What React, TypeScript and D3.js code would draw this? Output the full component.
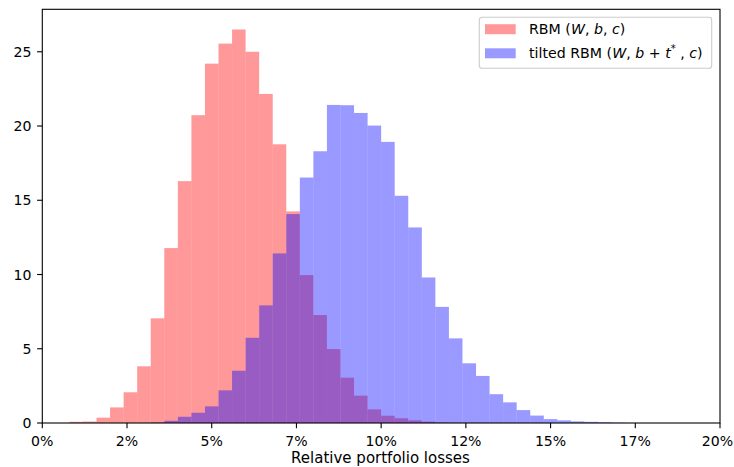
import React, { useEffect, useRef } from "react";
import * as d3 from "d3";

// histogram bins, left edge in percent, bin width 0.4%
const binWidth = 0.4;

const rbmEdges = [0.8, 1.2, 1.6, 2.0, 2.4, 2.8, 3.2, 3.6, 4.0, 4.4, 4.8, 5.2, 5.6, 6.0,
  6.4, 6.8, 7.2, 7.6, 8.0, 8.4, 8.8, 9.2, 9.6, 10.0, 10.4, 10.8, 11.2, 11.6];
const rbmDensity = [0.08, 0.1, 0.36, 1.05, 2.07, 3.82, 7.05, 11.78, 16.29, 20.73, 24.2, 25.55, 26.5, 25.0,
  22.16, 18.77, 14.25, 9.96, 7.27, 4.98, 3.05, 1.84, 0.92, 0.49, 0.32, 0.18, 0.09, 0.03];

const tiltedEdges = [3.2, 3.6, 4.0, 4.4, 4.8, 5.2, 5.6, 6.0, 6.4, 6.8, 7.2, 7.6, 8.0, 8.4, 8.8,
  9.2, 9.6, 10.0, 10.4, 10.8, 11.2, 11.6, 12.0, 12.4, 12.8, 13.2, 13.6, 14.0, 14.4, 14.8,
  15.2, 15.6, 16.0, 16.4, 16.8];
const tiltedDensity = [0.03, 0.15, 0.42, 0.69, 1.12, 2.2, 3.52, 5.74, 7.92, 11.42, 14.07, 16.53, 18.3, 21.42, 21.4,
  20.88, 20.03, 18.93, 15.3, 13.17, 9.8, 7.82, 5.7, 4.02, 3.17, 1.94, 1.39, 0.87, 0.5, 0.26,
  0.18, 0.11, 0.08, 0.05, 0.02];

const xTicks = [0, 2.5, 5, 7.5, 10, 12.5, 15, 17.5, 20];
const xTickLabels = ["0%", "2%", "5%", "7%", "10%", "12%", "15%", "17%", "20%"];
const yTicks = [0, 5, 10, 15, 20, 25];

const W = 734;
const H = 467;
const FONT = "DejaVu Sans, sans-serif";

const App = () => {
  const ref = useRef<SVGSVGElement>(null);

  useEffect(() => {
    const svg = d3.select(ref.current);
    svg.selectAll("*").remove();

    const x = d3.scaleLinear().domain([0, 20]).range([42.3, 720]);
    const y = d3.scaleLinear().domain([0, 27.86]).range([423, 9.3]);

    const drawHist = (edges: number[], vals: number[], color: string) => {
      svg
        .append("g")
        .selectAll("rect")
        .data(edges.map((e, i) => ({ e, v: vals[i] })))
        .join("rect")
        .attr("x", (d) => x(d.e))
        .attr("width", (d) => x(d.e + binWidth) - x(d.e))
        .attr("y", (d) => y(d.v))
        .attr("height", (d) => y(0) - y(d.v))
        .attr("fill", color)
        .attr("fill-opacity", 0.4);
    };

    drawHist(rbmEdges, rbmDensity, "red");
    drawHist(tiltedEdges, tiltedDensity, "blue");

    // x axis ticks
    const xg = svg.append("g");
    xTicks.forEach((t, i) => {
      xg.append("line")
        .attr("x1", x(t)).attr("x2", x(t))
        .attr("y1", 423).attr("y2", 428.2)
        .attr("stroke", "black").attr("stroke-width", 1.1);
      // last label would spill past the right edge, pull it in a little
      const lx = i === xTicks.length - 1 ? x(t) - 2.5 : x(t);
      xg.append("text")
        .attr("x", lx).attr("y", 445.5)
        .attr("text-anchor", "middle")
        .attr("font-family", FONT).attr("font-size", 14.1)
        .text(xTickLabels[i]);
    });

    // y axis ticks
    const yg = svg.append("g");
    yTicks.forEach((t) => {
      yg.append("line")
        .attr("x1", 37.1).attr("x2", 42.3)
        .attr("y1", y(t)).attr("y2", y(t))
        .attr("stroke", "black").attr("stroke-width", 1.1);
      yg.append("text")
        .attr("x", 31.5).attr("y", y(t))
        .attr("dy", "0.36em")
        .attr("text-anchor", "end")
        .attr("font-family", FONT).attr("font-size", 14.1)
        .text(t);
    });

    // frame
    svg.append("rect")
      .attr("x", 42.3).attr("y", 9.3)
      .attr("width", 720 - 42.3).attr("height", 423 - 9.3)
      .attr("fill", "none").attr("stroke", "black").attr("stroke-width", 1.1);

    svg.append("text")
      .attr("x", 380.5).attr("y", 462.8)
      .attr("text-anchor", "middle")
      .attr("font-family", FONT).attr("font-size", 15)
      .text("Relative portfolio losses");

    // legend
    const lg = svg.append("g");
    lg.append("rect")
      .attr("x", 479.3).attr("y", 17.3)
      .attr("width", 232.4).attr("height", 51)
      .attr("rx", 2.8)
      .attr("fill", "white").attr("fill-opacity", 0.8)
      .attr("stroke", "#cccccc").attr("stroke-width", 1.1);

    const items = [
      { color: "red", y: 29.2, parts: [["RBM (", false], ["W", true], [", ", false], ["b", true], [", ", false], ["c", true], [")", false]] },
      { color: "blue", y: 53.3, parts: [["tilted RBM (", false], ["W", true], [", ", false], ["b", true], [" + ", false], ["t", true], ["*", "sup"], [" , ", false], ["c", true], [")", false]] },
    ];
    items.forEach((it) => {
      lg.append("rect")
        .attr("x", 485).attr("y", it.y - 5)
        .attr("width", 30.7).attr("height", 10)
        .attr("fill", it.color).attr("fill-opacity", 0.4);
      const txt = lg.append("text")
        .attr("x", 529).attr("y", it.y)
        .attr("dy", "0.36em")
        .attr("font-family", FONT).attr("font-size", 14.2)
        .attr("xml:space", "preserve");
      it.parts.forEach(([s, st]) => {
        const ts = txt.append("tspan").text(s as string);
        if (st === true) ts.attr("font-style", "italic");
        if (st === "sup") ts.attr("font-size", 10).attr("baseline-shift", "6");
      });
    });
  });

  return (
    <svg
      ref={ref}
      width={W}
      height={H}
      style={{ position: "absolute", left: 0, top: 0, background: "white" }}
    ></svg>
  );
};

export default App;
